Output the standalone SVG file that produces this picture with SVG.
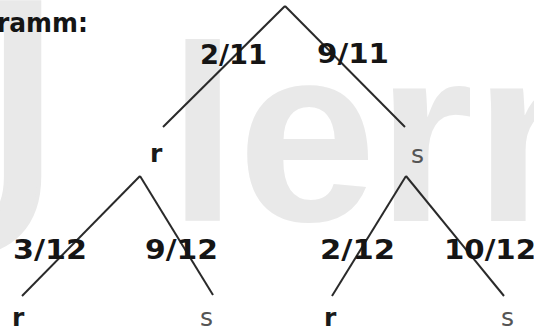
<svg xmlns="http://www.w3.org/2000/svg" width="534" height="327" viewBox="0 0 534 327">
<style>
.wm{font-family:"Liberation Sans",Arial,sans-serif;fill:#e9e9e9}
.lbl{font-family:"DejaVu Sans",Verdana,sans-serif;font-weight:bold;font-size:26px;fill:#151515}
.nd{font-family:"DejaVu Sans",Verdana,sans-serif;font-weight:bold;font-size:25px;fill:#1a1a1a}
.nds{font-family:"DejaVu Sans",Verdana,sans-serif;font-size:25px;fill:#555}
.edge{stroke:#2a2a2a;stroke-width:2;fill:none}
</style>
<rect width="534" height="327" fill="#ffffff"/>
<g id="watermark">
<text class="wm" x="-114" y="250" font-size="360" stroke="#e9e9e9" stroke-width="4">J</text>
<text class="wm" x="168" y="221" font-size="250" font-weight="bold">lern</text>
</g>
<text class="lbl" x="-3" y="32" textLength="91" lengthAdjust="spacingAndGlyphs" fill="#2a2a2a">ramm:</text>
<g id="connectors">
<line class="edge" x1="285" y1="6" x2="163" y2="127"/>
<line class="edge" x1="285" y1="6" x2="405" y2="127"/>
<line class="edge" x1="140" y1="176" x2="22" y2="296"/>
<line class="edge" x1="140" y1="176" x2="213" y2="295"/>
<line class="edge" x1="406" y1="176" x2="332" y2="296"/>
<line class="edge" x1="406" y1="176" x2="504" y2="296"/>
</g>
<g id="edge-labels">
<text class="lbl" x="200" y="64" textLength="67" lengthAdjust="spacingAndGlyphs">2/11</text>
<text class="lbl" x="317" y="63" textLength="72" lengthAdjust="spacingAndGlyphs">9/11</text>
<text class="lbl" x="13" y="259" textLength="74" lengthAdjust="spacingAndGlyphs">3/12</text>
<text class="lbl" x="145" y="259" textLength="73" lengthAdjust="spacingAndGlyphs">9/12</text>
<text class="lbl" x="320" y="259" textLength="75" lengthAdjust="spacingAndGlyphs">2/12</text>
<text class="lbl" x="444" y="259" textLength="92" lengthAdjust="spacingAndGlyphs">10/12</text>
</g>
<g id="node-r1"><text class="nd" x="150" y="162">r</text></g>
<g id="node-s1"><text class="nds" x="411" y="163">s</text></g>
<g id="node-rr"><text class="nd" x="12" y="326">r</text></g>
<g id="node-rs"><text class="nds" x="200" y="326">s</text></g>
<g id="node-sr"><text class="nd" x="324" y="326">r</text></g>
<g id="node-ss"><text class="nds" x="501" y="326">s</text></g>
</svg>
